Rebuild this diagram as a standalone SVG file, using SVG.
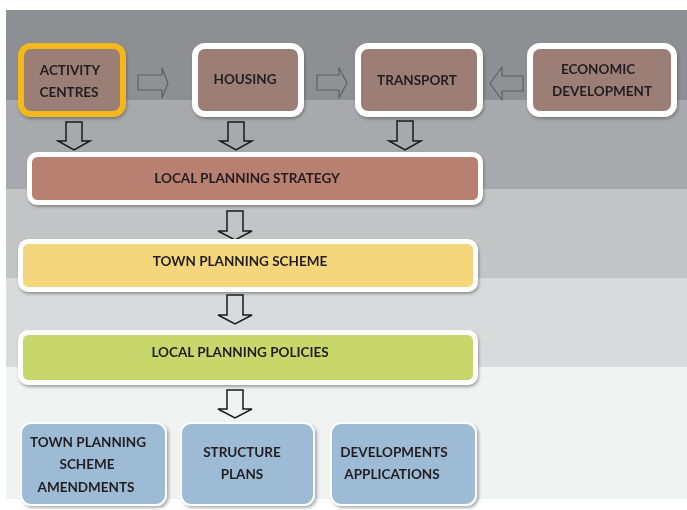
<svg xmlns="http://www.w3.org/2000/svg" width="687" height="510" viewBox="0 0 687 510">
  <defs>
    <filter id="shadow" x="-10%" y="-10%" width="125%" height="135%">
      <feDropShadow dx="1" dy="2" stdDeviation="1.5" flood-color="#3a3a3a" flood-opacity="0.45"/>
    </filter>
    <filter id="shadowSoft" x="-10%" y="-10%" width="125%" height="125%">
      <feDropShadow dx="2" dy="2" stdDeviation="1.5" flood-color="#5a6470" flood-opacity="0.5"/>
    </filter>
  </defs>
  <style>
    .lbl { font-family: Lato, "Liberation Sans", Arial, sans-serif; font-weight: bold; font-size: 13.5px; fill: #231f20; text-anchor: middle; }
    .src { fill: #9b7f76; stroke: #ffffff; stroke-width: 6; }
    .tier { stroke: #ffffff; stroke-width: 5; }
    .out { fill: #9dbbd4; stroke: #ffffff; stroke-width: 2; }
    .side { fill: #909194; stroke: #5f6063; stroke-width: 1.2; stroke-linejoin: round; }
    .down { fill: none; stroke: #1a1a1a; stroke-width: 1.5; stroke-linejoin: miter; }
  </style>

  <!-- background bands -->
  <g id="background">
    <rect x="0" y="0" width="687" height="510" fill="#ffffff"/>
    <rect x="6" y="10" width="681" height="90" fill="#8e8f92"/>
    <rect x="6" y="100" width="681" height="89" fill="#a8a9ac"/>
    <rect x="6" y="189" width="681" height="89" fill="#c3c4c6"/>
    <rect x="6" y="278" width="681" height="89" fill="#d9dadc"/>
    <rect x="6" y="367" width="681" height="132" fill="#f1f2f2"/>
  </g>

  <!-- connectors -->
  <g id="connectors">
    <polygon class="side" points="138,75 162,75 162,68 168,83 162,98 162,90 138,90"/>
    <polygon class="side" points="317,75 339,75 339,68 347,83 339,98 339,90 317,90"/>
    <polygon class="side" points="523,76 502,76 502,67 490,83.5 502,100 502,91 523,91"/>
    <polygon class="down" points="66,122 82,122 82,141 90,141 74,150 58,141 66,141"/>
    <polygon class="down" points="228,122 244,122 244,141 252,141 236,150 220,141 228,141"/>
    <polygon class="down" points="397,121 413,121 413,141 421,141 405,150 389,141 397,141"/>
    <polygon class="down" points="227,211 243,211 243,231 252,231 235,240 218,231 227,231"/>
    <polygon class="down" points="227,295 243,295 243,315 252,315 235,324 218,315 227,315"/>
    <polygon class="down" points="227,390 243,390 243,409 252,409 235,418 218,409 227,409"/>
  </g>

  <g id="activity-centres" filter="url(#shadow)">
    <rect class="src" x="21" y="46" width="102" height="68" rx="10" style="stroke:#f2b81c"/>
    <text class="lbl" x="70" y="75">ACTIVITY</text>
    <text class="lbl" x="69" y="97">CENTRES</text>
  </g>

  <g id="housing" filter="url(#shadow)">
    <rect class="src" x="195" y="46" width="106" height="68" rx="10"/>
    <text class="lbl" x="245" y="84">HOUSING</text>
  </g>

  <g id="transport" filter="url(#shadow)">
    <rect class="src" x="358" y="46" width="122" height="68" rx="10"/>
    <text class="lbl" x="417" y="85">TRANSPORT</text>
  </g>

  <g id="economic-development" filter="url(#shadow)">
    <rect class="src" x="530" y="46" width="144" height="68" rx="10"/>
    <text class="lbl" x="598" y="74">ECONOMIC</text>
    <text class="lbl" x="602" y="96">DEVELOPMENT</text>
  </g>

  <g id="local-planning-strategy" filter="url(#shadow)">
    <rect class="tier" x="29.5" y="154.5" width="451" height="48" rx="8" fill="#b8806f"/>
    <text class="lbl" x="247" y="183">LOCAL PLANNING STRATEGY</text>
  </g>

  <g id="town-planning-scheme" filter="url(#shadow)">
    <rect class="tier" x="20.5" y="241.5" width="455" height="48" rx="8" fill="#f4d67b"/>
    <text class="lbl" x="240" y="266">TOWN PLANNING SCHEME</text>
  </g>

  <g id="local-planning-policies" filter="url(#shadow)">
    <rect class="tier" x="20.5" y="332.5" width="455" height="50" rx="8" fill="#c7d76c"/>
    <text class="lbl" x="240" y="357">LOCAL PLANNING POLICIES</text>
  </g>

  <g id="scheme-amendments" filter="url(#shadowSoft)">
    <rect class="out" x="21" y="423" width="145" height="82" rx="10"/>
    <text class="lbl" x="88" y="447">TOWN PLANNING</text>
    <text class="lbl" x="87" y="469">SCHEME</text>
    <text class="lbl" x="86" y="492">AMENDMENTS</text>
  </g>

  <g id="structure-plans" filter="url(#shadowSoft)">
    <rect class="out" x="181" y="423" width="133" height="82" rx="10"/>
    <text class="lbl" x="242" y="457">STRUCTURE</text>
    <text class="lbl" x="242" y="479">PLANS</text>
  </g>

  <g id="development-applications" filter="url(#shadowSoft)">
    <rect class="out" x="331" y="423" width="145" height="82" rx="10"/>
    <text class="lbl" x="394" y="457">DEVELOPMENTS</text>
    <text class="lbl" x="392" y="479">APPLICATIONS</text>
  </g>
</svg>
